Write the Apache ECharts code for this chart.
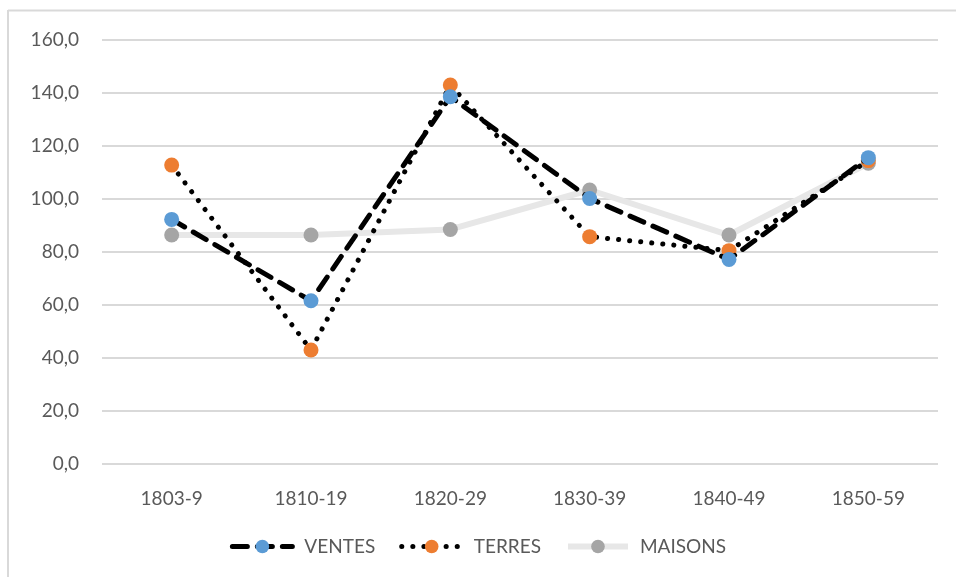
<!DOCTYPE html>
<html>
<head>
<meta charset="utf-8">
<script src="https://cdn.jsdelivr.net/npm/echarts@6/dist/echarts.min.js"></script>
<style>
  html, body { margin: 0; padding: 0; background: #fff; }
  #chart { width: 956px; height: 577px; }
</style>
</head>
<body>
<div id="chart"></div>
<script>
  const periodes = ['1803-9', '1810-19', '1820-29', '1830-39', '1840-49', '1850-59'];
  const ventes = [92.3, 61.6, 138.6, 100.2, 77.2, 115.6];
  const terres = [112.8, 43.0, 143.0, 85.8, 80.5, 114.5];
  const maisons = [86.4, 86.4, 88.5, 103.4, 86.4, 113.5];

  const fontName = 'Lato, "Open Sans", sans-serif';
  const chart = echarts.init(document.getElementById('chart'));

  const option = {
    animation: false,
    graphic: [
      { type: 'line', shape: { x1: 8, y1: 10.5, x2: 956, y2: 10.5 }, style: { stroke: '#d9d9d9', lineWidth: 2 } },
      { type: 'line', shape: { x1: 8, y1: 10, x2: 8, y2: 577 }, style: { stroke: '#d9d9d9', lineWidth: 2 } }
    ],
    grid: { left: 102, right: 18, top: 40, bottom: 113 },
    legend: {
      bottom: 16,
      itemWidth: 60,
      itemHeight: 17,
      itemGap: 24,
      textStyle: { fontFamily: fontName, fontSize: 19, color: '#595959', padding: [0, 0, 0, 7] },
      data: [
        { name: 'VENTES', lineStyle: { width: 5 } },
        { name: 'TERRES', lineStyle: { width: 5 } },
        { name: 'MAISONS', lineStyle: { width: 6 } }
      ]
    },
    xAxis: {
      type: 'category',
      data: periodes,
      axisLine: { show: false },
      axisTick: { show: false },
      axisLabel: { fontFamily: fontName, fontSize: 19, color: '#595959', margin: 25 }
    },
    yAxis: {
      type: 'value',
      min: 0,
      max: 160,
      interval: 20,
      axisLabel: {
        fontFamily: fontName, fontSize: 19, color: '#595959', margin: 23,
        formatter: v => v.toFixed(1).replace('.', ',')
      },
      splitLine: { lineStyle: { color: '#d9d9d9', width: 2 } }
    },
    series: [
      {
        name: 'MAISONS',
        type: 'line',
        data: maisons,
        symbol: 'circle',
        symbolSize: 15,
        z: 1,
        itemStyle: { color: '#a5a5a5' },
        lineStyle: { color: '#e7e7e7', width: 6 }
      },
      {
        name: 'TERRES',
        type: 'line',
        data: terres,
        symbol: 'circle',
        symbolSize: 15,
        z: 2,
        itemStyle: { color: '#ed7d31' },
        lineStyle: { color: '#000', width: 5, type: [0.1, 11], cap: 'round' }
      },
      {
        name: 'VENTES',
        type: 'line',
        data: ventes,
        symbol: 'circle',
        symbolSize: 15,
        z: 3,
        itemStyle: { color: '#5b9bd5' },
        lineStyle: { color: '#000', width: 5, type: [15, 10], cap: 'round' }
      }
    ]
  };
  chart.setOption(option);
</script>
</body>
</html>
